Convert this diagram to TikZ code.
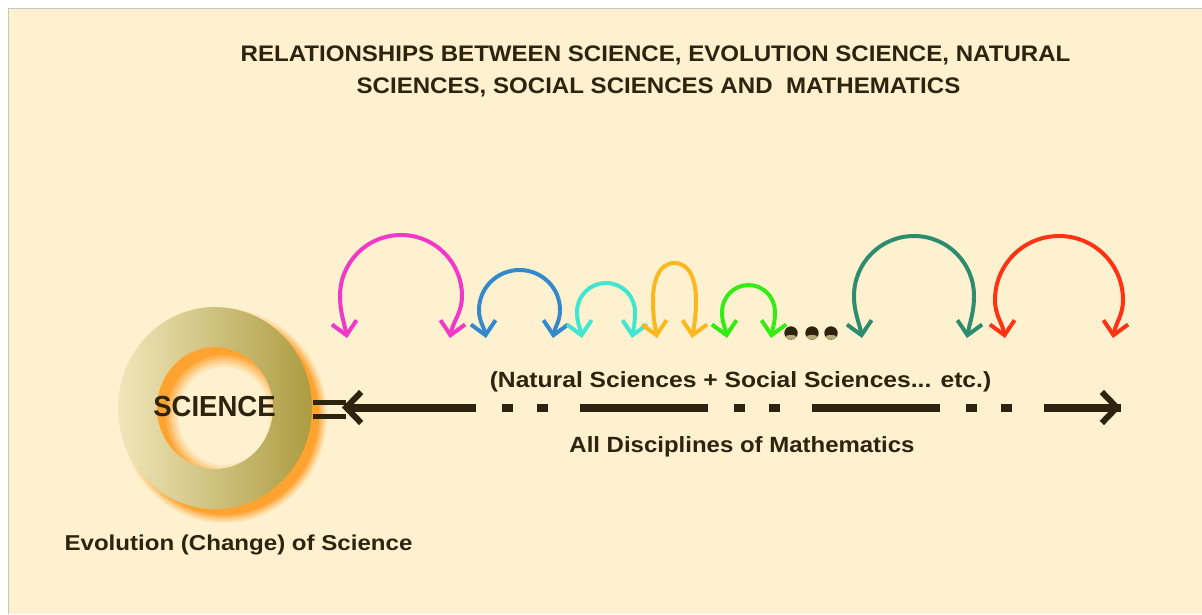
\documentclass[tikz,border=0pt]{standalone}
\usepackage{fontspec}
\usepackage{graphicx}
\setmainfont{Liberation Sans}
\usetikzlibrary{arrows.meta,calc}
\definecolor{bg}{RGB}{254,241,207}
\definecolor{ink}{RGB}{45,35,14}
\definecolor{cmag}{RGB}{242,56,200}
\definecolor{cblue}{RGB}{52,136,204}
\definecolor{ccyan}{RGB}{64,230,208}
\definecolor{camber}{RGB}{250,184,30}
\definecolor{cgreen}{RGB}{50,236,20}
\definecolor{cteal}{RGB}{46,140,110}
\definecolor{cred}{RGB}{255,50,20}
\definecolor{ringlight}{RGB}{240,230,186}
\definecolor{ringmid}{RGB}{214,198,128}
\definecolor{ringdark}{RGB}{172,156,66}
\definecolor{glow}{RGB}{255,140,0}
\definecolor{beadlight}{RGB}{185,168,120}
\newcommand\hs[2]{\scalebox{#1}[1]{#2}}
\begin{document}
\begin{tikzpicture}[x=1pt,y=1pt,
  lbl/.style={text=ink, inner sep=0pt, anchor=base},
  looparrow/.style={line width=4pt, {Straight Barb[length=13pt,width=25pt]}-{Straight Barb[length=13pt,width=25pt]}},
  mainline/.style={draw=ink, line width=8pt, dash pattern=on 128pt off 26pt on 11pt off 24pt on 11pt off 32pt, dash phase=226pt},
  maintip/.style={draw=ink, line width=6pt, -{Straight Barb[length=15pt,width=31pt]}},
  eqbar/.style={draw=ink, line width=5pt},
  bead/.style={fill=ink},
]
\useasboundingbox (0,0) rectangle (1202,-614);
% background
\fill[white] (0,0) rectangle (1202,-614);
\fill[bg] (8,-8) rectangle (1202,-614);
\draw[black!22, line width=1pt] (8,-614) -- (8,-8) -- (1202,-8);

% title
\node[lbl, font=\bfseries\fontsize{22.5}{27}\selectfont] (t1) at (655.5,-61.5) {\hs{1.07}{RELATIONSHIPS BETWEEN SCIENCE, EVOLUTION SCIENCE, NATURAL}};
\node[lbl, font=\bfseries\fontsize{22.5}{27}\selectfont] (t2) at (658.5,-93) {\hs{1.07}{SCIENCES, SOCIAL SCIENCES AND\ \ MATHEMATICS}};

% ring glow (soft shadow towards lower right)
\foreach \s/\t/\o in {6/12/0.12, 4/9/0.16, 2/6/0.22, 0/3/0.3, -2/0/0.4}{
  \fill[glow, opacity=\o, even odd rule] (224,-416) ellipse ({97+\s} and {101+\s}) (224,-416) ellipse ({58-\t} and {61-\t});
}
% ring
\shade[even odd rule, left color=ringlight, middle color=ringmid, right color=ringdark] (215,-408) ellipse (97 and 101) (215,-408) ellipse (58 and 61);

\node[lbl, font=\bfseries\fontsize{29}{34}\selectfont] (sci) at (214.5,-416.5) {\hs{0.95}{SCIENCE}};
\node[lbl, font=\bfseries\fontsize{21.5}{26}\selectfont] (evo) at (238.5,-550) {\hs{1.12}{Evolution (Change) of Science}};

% equals bars
\coordinate (eqa1) at (313,-402.5);
\coordinate (eqb1) at (346,-402.5);
\coordinate (eqa2) at (313,-416.5);
\coordinate (eqb2) at (346,-416.5);
\draw[eqbar] (eqa1) -- (eqb1);
\draw[eqbar] (eqa2) -- (eqb2);

% main arrow
\coordinate (L) at (342,-407.5);
\coordinate (R) at (1121,-407.5);
\draw[mainline] (L) -- (R);
\draw[maintip] ($(L)+(22,0)$) -- (L);
\draw[maintip] ($(R)-(22,0)$) -- (R);

\node[lbl, font=\bfseries\fontsize{22}{26}\selectfont] (nat) at (740.5,-387) {\hs{1.12}{(Natural Sciences + Social Sciences... etc.)}};
\node[lbl, font=\bfseries\fontsize{22}{26}\selectfont] (all) at (742,-452) {\hs{1.09}{All Disciplines of Mathematics}};

% loop arrows
\foreach \n/\col/\xl/\xle/\xc/\xre/\xr/\tp/\ym in {
 1/cmag/347/340/401/462/450/235/296,
 2/cblue/486/479/519.5/560/553/270/310,
 3/ccyan/582/577/606/635/632/283/312,
 4/camber/657/653/674.5/696/692/263/300,
 5/cgreen/727/722/748.5/775/771/285/312,
 6/cteal/862/854/914/974/967/236/296,
 7/cred/1005/995/1059/1123/1113/236/300}{
  \coordinate (t\n l) at (\xl,-338);
  \coordinate (t\n r) at (\xr,-338);
  \coordinate (m\n l) at (\xle,-\ym);
  \coordinate (m\n r) at (\xre,-\ym);
  \coordinate (top\n) at (\xc,-\tp);
  \draw[looparrow, draw=\col] (t\n l) to[out=100,in=-90] (m\n l) to[out=90,in=180] (top\n) to[out=0,in=90] (m\n r) to[out=-90,in=80] (t\n r);
}

% beads
\foreach \i/\x in {1/791,2/812,3/831}{
  \coordinate (b\i) at (\x,-333);
  \fill[bead] (b\i) circle (6.7);
  \begin{scope}
    \clip (b\i) circle (6.7);
    \fill[beadlight] ($(b\i)+(0,-4.2)$) ellipse (6 and 2.2);
  \end{scope}
}
\end{tikzpicture}
\end{document}
